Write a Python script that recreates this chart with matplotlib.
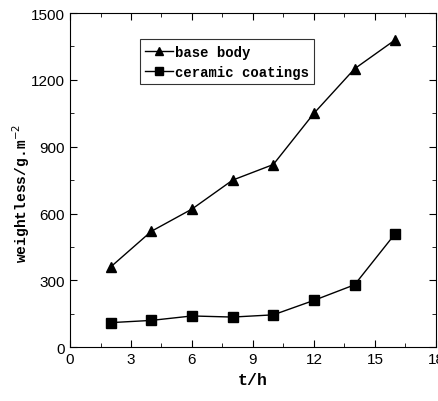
import numpy as np
from matplotlib import pyplot as plt
from matplotlib.ticker import MultipleLocator

t_h = [2, 4, 6, 8, 10, 12, 14, 16]
base_body = [360, 520, 620, 750, 820, 1050, 1250, 1380]
ceramic = [110, 120, 140, 135, 145, 210, 280, 510]

LABEL_FONT = ['Liberation Mono', 'DejaVu Sans Mono']
TICK_FONT = ['Liberation Sans', 'DejaVu Sans']

fig = plt.figure(figsize=(4.39, 4.02), dpi=100)
ax = fig.add_axes([0.1595, 0.134, 0.8335, 0.831])

ax.plot(t_h, base_body, color='black', lw=1, marker='^', ms=7, label='base body')
ax.plot(t_h, ceramic, color='black', lw=1, marker='s', ms=7, label='ceramic coatings')

ax.set_xlim(0, 18)
ax.set_ylim(0, 1500)
ax.xaxis.set_major_locator(MultipleLocator(3))
ax.xaxis.set_minor_locator(MultipleLocator(1.5))
ax.yaxis.set_major_locator(MultipleLocator(300))
ax.yaxis.set_minor_locator(MultipleLocator(150))
ax.tick_params(which='both', direction='in', top=True, right=True)
ax.tick_params(which='major', length=5, labelsize=11)
ax.tick_params(which='minor', length=3)
for lab in ax.get_xticklabels() + ax.get_yticklabels():
    lab.set_family(TICK_FONT)

ax.set_xlabel('t/h', family=LABEL_FONT, fontweight='bold', fontsize=12)
ax.set_ylabel('weightless/g.m$^{-2}$', family=LABEL_FONT, fontweight='bold', fontsize=10.5)
ax.yaxis.set_label_coords(-0.104, 0.464)

leg = ax.legend(loc='upper left', bbox_to_anchor=(0.191, 0.922), borderaxespad=0,
                frameon=True, fancybox=False, edgecolor='black', handlelength=2.0,
                handletextpad=0.1, borderpad=0.4, labelspacing=0.45, markerscale=0.75,
                prop={'family': LABEL_FONT, 'size': 10, 'weight': 'bold'})
leg.get_frame().set_linewidth(0.8)

fig.savefig('out.png', dpi=100)
